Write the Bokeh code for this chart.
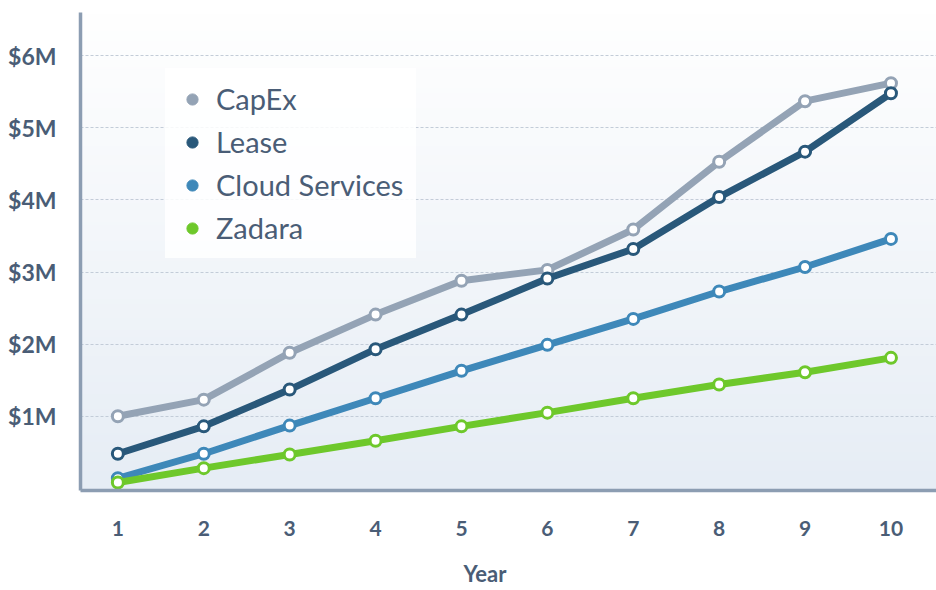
import numpy as np
from bokeh.plotting import figure
from bokeh.models import (ColumnDataSource, FixedTicker, PrintfTickFormatter,
                          Legend, LegendItem, Range1d, Title)
from bokeh.embed import file_html
from bokeh.resources import INLINE

years = [1, 2, 3, 4, 5, 6, 7, 8, 9, 10]
capex = [1.00, 1.23, 1.88, 2.41, 2.88, 3.03, 3.59, 4.53, 5.37, 5.62]
lease = [0.48, 0.86, 1.37, 1.93, 2.41, 2.91, 3.32, 4.04, 4.67, 5.48]
cloud = [0.14, 0.48, 0.87, 1.25, 1.63, 1.99, 2.35, 2.73, 3.07, 3.46]
zadara = [0.08, 0.28, 0.47, 0.66, 0.86, 1.05, 1.25, 1.44, 1.61, 1.81]
series_names = ["CapEx", "Lease", "Cloud Services", "Zadara"]
series_colors = ["#94a3b5", "#29587a", "#3e88b9", "#6ec82b"]
y_ticks = [1, 2, 3, 4, 5, 6]
x_label = "Year"

FONT = "Lato"
TXT = "#4a5d76"

xr = Range1d(0.565, 10.53)
yr = Range1d(-0.03, 6.6)

p = figure(width=936, height=590, x_range=xr, y_range=yr,
           output_backend="svg", toolbar_location=None,
           min_border_left=80, min_border_right=0, min_border_top=12,
           min_border_bottom=100)
p.outline_line_color = None
p.background_fill_color = "#ffffff"
p.border_fill_color = "#ffffff"

# vertical gradient background of plot area
n = 200
t = np.linspace(0, 1, n)[:, None]  # 0 bottom -> 1 top
top = np.array([255, 255, 255])
bot = np.array([230, 237, 245])
cols = (bot + (top - bot) * t).astype(np.uint32)
img = np.zeros((n, 1), dtype=np.uint32)
view = img.view(dtype=np.uint8).reshape((n, 1, 4))
view[:, 0, 0] = cols[:, 0]
view[:, 0, 1] = cols[:, 1]
view[:, 0, 2] = cols[:, 2]
view[:, 0, 3] = 255
p.image_rgba(image=[img], x=xr.start, y=yr.start,
             dw=xr.end - xr.start, dh=yr.end - yr.start, level="image")

data = [capex, lease, cloud, zadara]
items = []
for vals, col, name in zip(data, series_colors, series_names):
    src = ColumnDataSource(dict(x=years, y=vals))
    p.line("x", "y", source=src, line_color=col, line_width=7,
           line_join="round", line_cap="round")
    p.scatter("x", "y", source=src, size=11, fill_color="white",
              line_color=col, line_width=3)
    # legend-only dot (hidden renderer, drawn only in the legend)
    r = p.scatter("x", "y", source=src, size=12, fill_color=col,
                  line_color=col, visible=False)
    items.append(LegendItem(label=name, renderers=[r]))

legend = Legend(items=items, location=(85, 232))
legend.label_text_font = FONT
legend.label_text_font_size = "29px"
legend.label_text_color = TXT
legend.glyph_width = 28
legend.glyph_height = 28
legend.label_standoff = 10
legend.label_height = 30
legend.spacing = 8
legend.padding = 13
legend.margin = 0
legend.border_line_alpha = 0
legend.background_fill_color = "white"
legend.background_fill_alpha = 0.85
legend.inactive_fill_alpha = 0
p.add_layout(legend, "center")

# axes
for ax in (p.xaxis[0], p.yaxis[0]):
    ax.axis_line_color = "#8c9db2"
    ax.axis_line_width = 3.5
    ax.major_tick_line_color = None
    ax.minor_tick_line_color = None
    ax.major_label_text_font = FONT
    ax.major_label_text_font_style = "bold"
    ax.major_label_text_color = TXT

p.xaxis.ticker = FixedTicker(ticks=years)
p.xaxis.major_label_text_font_size = "21px"
p.xaxis.major_label_standoff = 24

xt = Title(text=x_label, align="left", offset=383, text_font=FONT,
           text_font_style="bold", text_font_size="22px", text_color=TXT,
           standoff=0, padding=(0, 0, 19, 0))
p.add_layout(xt, "below")

p.yaxis.ticker = FixedTicker(ticks=y_ticks)
p.yaxis.formatter = PrintfTickFormatter(format="$%dM")
p.yaxis.major_label_text_font_size = "23px"
p.yaxis.major_label_standoff = 18

p.xgrid.grid_line_color = None
p.ygrid.grid_line_color = "#c3ccd8"
p.ygrid.grid_line_dash = "3 2"
p.ygrid.grid_line_width = 1

open("out.html", "w").write(file_html(p, INLINE))
